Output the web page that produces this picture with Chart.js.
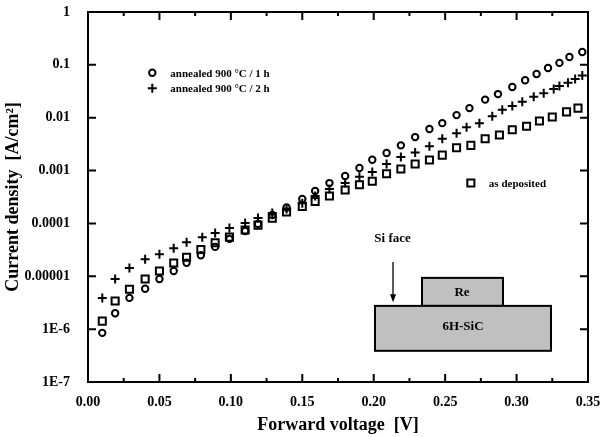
<!DOCTYPE html>
<html>
<head>
<meta charset="utf-8">
<script src="https://cdn.jsdelivr.net/npm/chart.js@4.4.1/dist/chart.umd.min.js"></script>
<style>
  html, body { margin: 0; padding: 0; background: #fff; }
  #wrap { width: 604px; height: 437px; }
</style>
</head>
<body>
<div id="wrap"><canvas id="grafico" width="604" height="437"></canvas></div>
<script>
// forward voltage (V) and current density (A/cm2)
const vAnnealed1h = [0.010, 0.019, 0.029, 0.040, 0.050, 0.060, 0.069, 0.079, 0.089, 0.099,
    0.110, 0.119, 0.129, 0.139, 0.150, 0.159, 0.169, 0.180, 0.190, 0.199,
    0.209, 0.219, 0.229, 0.239, 0.248, 0.258, 0.267, 0.278, 0.287, 0.297,
    0.306, 0.314, 0.322, 0.330, 0.337, 0.346]
const jAnnealed1h = [8.5e-7, 2.0e-6, 3.9e-6, 5.8e-6, 8.9e-6, 1.26e-5, 1.8e-5, 2.5e-5, 3.6e-5, 5.1e-5,
    7.2e-5, 9.8e-5, 1.44e-4, 2.0e-4, 2.9e-4, 4.1e-4, 5.8e-4, 7.9e-4, 1.12e-3, 1.6e-3,
    2.15e-3, 3.0e-3, 4.3e-3, 6.1e-3, 7.9e-3, 1.12e-2, 1.52e-2, 2.2e-2, 2.8e-2, 3.8e-2,
    5.1e-2, 6.7e-2, 8.7e-2, 0.109, 0.141, 0.175]

const vAnnealed2h = [0.010, 0.019, 0.029, 0.040, 0.050, 0.060, 0.069, 0.080, 0.089, 0.099,
    0.110, 0.119, 0.129, 0.139, 0.150, 0.159, 0.169, 0.180, 0.190, 0.199,
    0.209, 0.219, 0.229, 0.239, 0.248, 0.258, 0.265, 0.274, 0.283, 0.290,
    0.297, 0.304, 0.312, 0.319, 0.326, 0.330, 0.336, 0.341, 0.346]
const jAnnealed2h = [3.9e-6, 8.9e-6, 1.44e-5, 2.1e-5, 2.6e-5, 3.4e-5, 4.4e-5, 5.5e-5, 6.6e-5, 8.2e-5,
    1.02e-4, 1.26e-4, 1.58e-4, 1.87e-4, 2.4e-4, 3.3e-4, 4.5e-4, 5.8e-4, 7.6e-4, 9.4e-4,
    1.33e-3, 1.81e-3, 2.2e-3, 2.9e-3, 4.0e-3, 5.1e-3, 6.6e-3, 7.9e-3, 1.07e-2, 1.41e-2,
    1.66e-2, 2.0e-2, 2.5e-2, 2.9e-2, 3.5e-2, 4.0e-2, 4.6e-2, 5.4e-2, 6.3e-2]

const vAsDeposited = [0.010, 0.019, 0.029, 0.040, 0.050, 0.060, 0.069, 0.079, 0.089, 0.099,
    0.110, 0.119, 0.129, 0.139, 0.150, 0.159, 0.169, 0.180, 0.190, 0.199,
    0.209, 0.219, 0.229, 0.239, 0.248, 0.258, 0.268, 0.278, 0.288, 0.297,
    0.307, 0.316, 0.325, 0.335, 0.343]
const jAsDeposited = [1.42e-6, 3.4e-6, 5.7e-6, 8.9e-6, 1.26e-5, 1.78e-5, 2.3e-5, 3.2e-5, 4.3e-5, 5.5e-5,
    7.5e-5, 9.3e-5, 1.26e-4, 1.65e-4, 2.1e-4, 2.6e-4, 3.3e-4, 4.3e-4, 5.4e-4, 6.3e-4,
    8.7e-4, 1.07e-3, 1.33e-3, 1.59e-3, 1.96e-3, 2.7e-3, 3.0e-3, 4.0e-3, 4.7e-3, 5.9e-3,
    6.9e-3, 8.7e-3, 1.03e-2, 1.29e-2, 1.52e-2]

const seriesNames = ["annealed 900 °C / 1 h", "annealed 900 °C / 2 h", "as deposited"]

const xTicks = [0, 0.05, 0.10, 0.15, 0.20, 0.25, 0.30, 0.35]
const xLabels = ["0.00", "0.05", "0.10", "0.15", "0.20", "0.25", "0.30", "0.35"]
const yTicks = [1e-7, 1e-6, 1e-5, 1e-4, 1e-3, 1e-2, 1e-1, 1]
const yLabels = ["1E-7", "1E-6", "0.00001", "0.0001", "0.001", "0.01", "0.1", "1"]

const fonte = "'Liberation Serif', 'Times New Roman', serif"

function pares(xs, ys) {
    return xs.map((x, i) => ({ x: x, y: ys[i] }))
}

// frame with inward ticks on all four sides
const moldura = {
    id: "moldura",
    afterDraw(chart) {
        const ctx = chart.ctx
        const a = chart.chartArea
        const sx = chart.scales.x
        const sy = chart.scales.y
        ctx.save()
        ctx.strokeStyle = "#000"
        ctx.lineWidth = 2
        ctx.strokeRect(a.left, a.top, a.right - a.left, a.bottom - a.top)
        ctx.beginPath()
        xTicks.slice(1, -1).forEach(v => {
            const px = sx.getPixelForValue(v)
            ctx.moveTo(px, a.bottom); ctx.lineTo(px, a.bottom - 8)
            ctx.moveTo(px, a.top); ctx.lineTo(px, a.top + 8)
        })
        for (let i = 0; i < xTicks.length - 1; i++) {
            const px = sx.getPixelForValue((xTicks[i] + xTicks[i + 1]) / 2)
            ctx.moveTo(px, a.bottom); ctx.lineTo(px, a.bottom - 4)
            ctx.moveTo(px, a.top); ctx.lineTo(px, a.top + 4)
        }
        yTicks.slice(1, -1).forEach(v => {
            const py = sy.getPixelForValue(v)
            ctx.moveTo(a.left, py); ctx.lineTo(a.left + 8, py)
            ctx.moveTo(a.right, py); ctx.lineTo(a.right - 8, py)
        })
        ctx.stroke()
        ctx.restore()
    }
}

// legend entries and the little device sketch
const anotacoes = {
    id: "anotacoes",
    afterDatasetsDraw(chart) {
        const ctx = chart.ctx
        const sx = chart.scales.x
        const sy = chart.scales.y
        const X = v => sx.getPixelForValue(v)
        const Y = v => sy.getPixelForValue(v)
        ctx.save()
        ctx.strokeStyle = "#000"
        ctx.lineWidth = 2

        const legenda = [
            { estilo: "circle", r: 3.2, x: 0.045, y: 0.071, texto: seriesNames[0] },
            { estilo: "cross", r: 4.5, x: 0.045, y: 0.036, texto: seriesNames[1] },
            { estilo: "rect", r: 5, x: 0.268, y: 5.8e-4, texto: seriesNames[2] }
        ]
        ctx.font = "bold 11px " + fonte
        ctx.textBaseline = "middle"
        ctx.textAlign = "left"
        legenda.forEach(l => {
            ctx.fillStyle = "rgba(0,0,0,0)"
            Chart.helpers.drawPoint(ctx, { pointStyle: l.estilo, radius: l.r, rotation: 0, borderWidth: 2 }, X(l.x), Y(l.y))
            ctx.fillStyle = "#000"
            ctx.fillText(l.texto, X(l.x) + 18, Y(l.y) + 1)
        })

        // substrate and contact boxes
        ctx.lineWidth = 2
        ctx.fillStyle = "#c0c0c0"
        const sicL = X(0.2009), sicR = X(0.3241), sicT = Y(Math.pow(10, -5.56)), sicB = Y(Math.pow(10, -6.41))
        const reL = X(0.2338), reR = X(0.2905), reT = Y(Math.pow(10, -5.03))
        ctx.fillRect(reL, reT, reR - reL, sicT - reT)
        ctx.strokeRect(reL, reT, reR - reL, sicT - reT)
        ctx.fillRect(sicL, sicT, sicR - sicL, sicB - sicT)
        ctx.strokeRect(sicL, sicT, sicR - sicL, sicB - sicT)

        ctx.fillStyle = "#000"
        ctx.font = "bold 13px " + fonte
        ctx.textAlign = "center"
        ctx.fillText("Re", X(0.2618), (reT + sicT) / 2 + 1)
        ctx.fillText("6H-SiC", X(0.2625), (sicT + sicB) / 2 - 2)
        ctx.fillText("Si face", X(0.2132), Y(Math.pow(10, -4.29)))

        // arrow
        const ax = X(0.2135)
        const ay0 = Y(Math.pow(10, -4.73))
        const ay1 = Y(Math.pow(10, -5.49))
        ctx.lineWidth = 1.3
        ctx.beginPath()
        ctx.moveTo(ax, ay0); ctx.lineTo(ax, ay1 - 6)
        ctx.stroke()
        ctx.beginPath()
        ctx.moveTo(ax - 3, ay1 - 8); ctx.lineTo(ax + 3, ay1 - 8); ctx.lineTo(ax, ay1)
        ctx.closePath()
        ctx.fill()
        ctx.restore()
    }
}

const estiloPonto = (estilo, r) => ({
    pointStyle: estilo,
    pointRadius: r,
    pointBorderWidth: 2,
    borderColor: "#000",
    backgroundColor: "rgba(0,0,0,0)",
    showLine: false,
    clip: false
})

new Chart(document.getElementById("grafico"), {
    type: "scatter",
    data: {
        datasets: [
            Object.assign({ label: seriesNames[0], data: pares(vAnnealed1h, jAnnealed1h) }, estiloPonto("circle", 3.2)),
            Object.assign({ label: seriesNames[1], data: pares(vAnnealed2h, jAnnealed2h) }, estiloPonto("cross", 4.5)),
            Object.assign({ label: seriesNames[2], data: pares(vAsDeposited, jAsDeposited) }, estiloPonto("rect", 5))
        ]
    },
    options: {
        responsive: false,
        animation: false,
        devicePixelRatio: 1,
        layout: { padding: { top: 12, right: 16, left: 0, bottom: 0 } },
        plugins: {
            legend: { display: false },
            tooltip: { enabled: false }
        },
        scales: {
            x: {
                type: "linear",
                min: 0,
                max: 0.35,
                grid: { display: false },
                border: { display: false },
                afterBuildTicks: s => { s.ticks = xTicks.map(v => ({ value: v })) },
                afterFit: s => { s.height = 55; s.paddingLeft = 0; s.paddingRight = 0 },
                ticks: {
                    color: "#000",
                    padding: 4,
                    maxRotation: 0,
                    font: { family: fonte, size: 14, weight: "bold" },
                    callback: (v, i) => xLabels[i]
                },
                title: {
                    display: true,
                    text: "Forward voltage  [V]",
                    color: "#000",
                    padding: { top: 0, bottom: 1 },
                    font: { family: fonte, size: 18, weight: "bold" }
                }
            },
            y: {
                type: "logarithmic",
                min: 1e-7,
                max: 1,
                grid: { display: false },
                border: { display: false },
                afterBuildTicks: s => { s.ticks = yTicks.map(v => ({ value: v })) },
                afterFit: s => { s.width = 88; s.paddingTop = 0; s.paddingBottom = 0 },
                ticks: {
                    color: "#000",
                    padding: 10,
                    font: { family: fonte, size: 14, weight: "bold" },
                    callback: (v, i) => yLabels[i]
                },
                title: {
                    display: true,
                    text: "Current density  [A/cm²]",
                    color: "#000",
                    padding: { top: 3, bottom: 0 },
                    font: { family: fonte, size: 18, weight: "bold" }
                }
            }
        }
    },
    plugins: [anotacoes, moldura]
})
</script>
</body>
</html>
